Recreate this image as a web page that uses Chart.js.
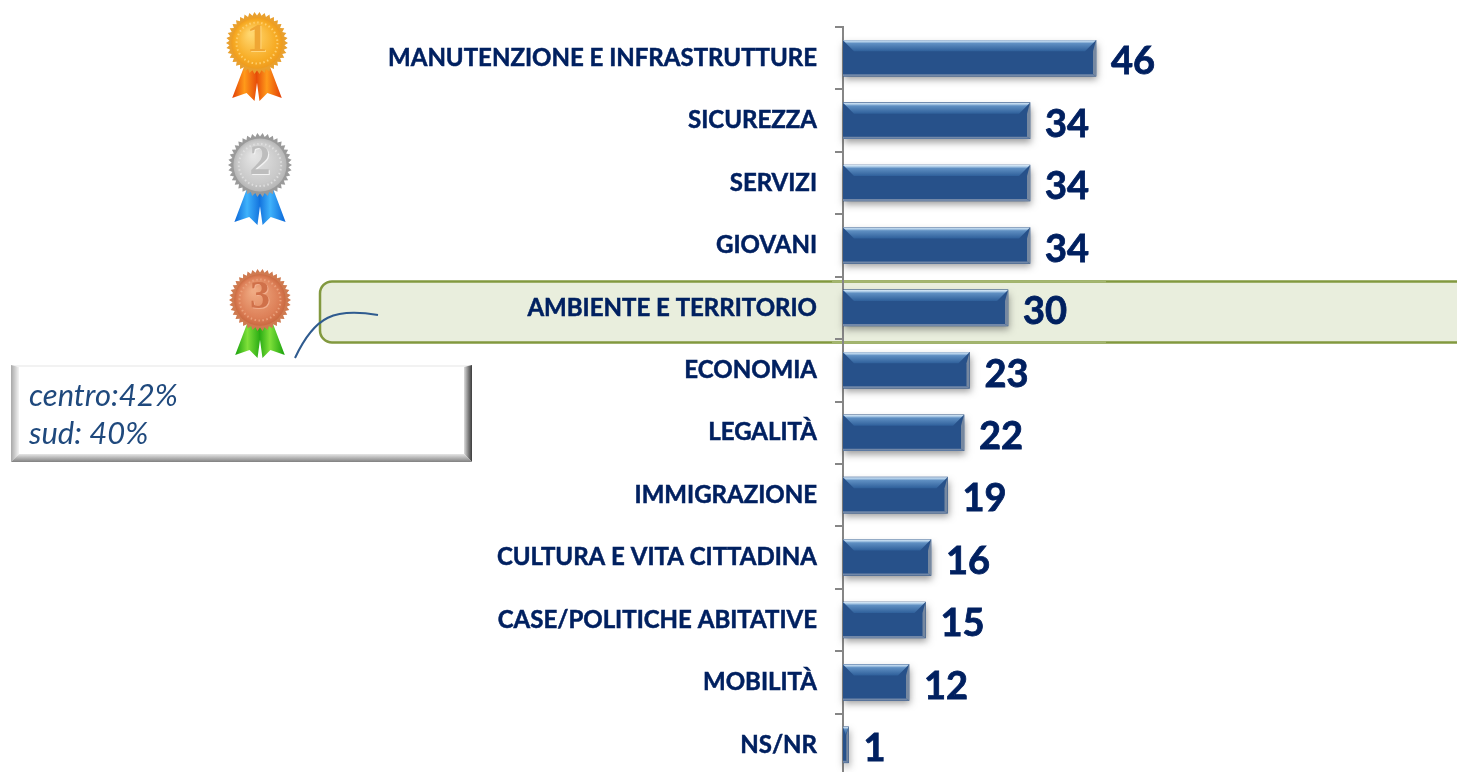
<!DOCTYPE html>
<html><head><meta charset="utf-8">
<script src="https://cdn.jsdelivr.net/npm/chart.js@4/dist/chart.umd.min.js"></script>
<style>html,body{margin:0;padding:0;background:#fff;overflow:hidden;width:1457px;height:772px}canvas{display:block}</style>
</head><body><canvas id="c" width="1457" height="800"></canvas>
<script>
const categories=["MANUTENZIONE E INFRASTRUTTURE","SICUREZZA","SERVIZI","GIOVANI","AMBIENTE E TERRITORIO","ECONOMIA","LEGALITÀ","IMMIGRAZIONE","CULTURA E VITA CITTADINA","CASE/POLITICHE ABITATIVE","MOBILITÀ","NS/NR"];
const values=[46,34,34,34,30,23,22,19,16,15,12,1];
const highlightIndex=4;
const calloutLines=["centro:42%","sud: 40%"];
const NAVY="#002060";

function poly(ctx,pts,fill){ctx.beginPath();pts.forEach((p,i)=>i?ctx.lineTo(p[0],p[1]):ctx.moveTo(p[0],p[1]));ctx.closePath();ctx.fillStyle=fill;ctx.fill();}

function medal(ctx,cx,cy,r,rb,c,digit){
  const bottom=rb;
  const tail=(pts,x0,x1)=>{const g=ctx.createLinearGradient(x0,0,x1,0);g.addColorStop(0,c.rib1);g.addColorStop(.45,c.rib2);g.addColorStop(1,c.rib1);poly(ctx,pts,g);};
  const t=cy+r*0.72,w=r*0.8;
  tail([[cx-w*0.5,t],[cx+w*0.08,t+3],[cx-w*0.1,bottom],[cx-w*0.42,bottom-8],[cx-w,bottom-3]],cx-w,cx+w*0.1);
  tail([[cx+w*0.5,t],[cx-w*0.08,t+3],[cx+w*0.1,bottom],[cx+w*0.42,bottom-8],[cx+w,bottom-3]],cx-w*0.1,cx+w);
  const n=38;ctx.beginPath();
  for(let i=0;i<n*2;i++){const a=i*Math.PI/n,R=i%2?r*0.89:r;const x=cx+R*Math.cos(a),y=cy+R*Math.sin(a);i?ctx.lineTo(x,y):ctx.moveTo(x,y);}
  ctx.closePath();ctx.fillStyle=c.edge;ctx.fill();
  const g=ctx.createRadialGradient(cx-r*.2,cy-r*.3,2,cx,cy,r*.85);
  g.addColorStop(0,c.light);g.addColorStop(.75,c.mid);g.addColorStop(1,c.dark);
  ctx.beginPath();ctx.arc(cx,cy,r*.83,0,Math.PI*2);ctx.fillStyle=g;ctx.fill();
  ctx.beginPath();ctx.arc(cx,cy,r*.66,0,Math.PI*2);ctx.strokeStyle=c.ring;ctx.lineWidth=2;ctx.setLineDash([1.5,2.5]);ctx.stroke();ctx.setLineDash([]);
  ctx.font="bold "+Math.round(r*1.3)+"px 'Liberation Serif'";ctx.textAlign="center";ctx.textBaseline="middle";
  ctx.fillStyle=c.shade;ctx.fillText(digit,cx+1,cy-1);
  ctx.fillStyle=c.digit;ctx.fillText(digit,cx,cy-2);
}

const medals={
 id:"medals",
 afterDraw(ch){const x=ch.ctx;x.save();
  medal(x,257,43,31,101,{rib1:"#e23d06",rib2:"#ff9a1a",edge:"#e9a02e",light:"#ffd66e",mid:"#f7ac25",dark:"#ee9a1d",ring:"#ffce6a",digit:"#efa634",shade:"#ffd77f"},"1");
  medal(x,260,165,32,225,{rib1:"#0a66d8",rib2:"#3fb2fb",edge:"#9a9a9a",light:"#e4e4e4",mid:"#c9c9c9",dark:"#b4b4b4",ring:"#dedede",digit:"#bdbdbd",shade:"#f2f2f2"},"2");
  medal(x,260,300,31,358,{rib1:"#18a10c",rib2:"#7fe03a",edge:"#cf7a50",light:"#f0ab83",mid:"#dd8058",dark:"#c9683f",ring:"#eba07a",digit:"#d0714a",shade:"#f2b090"},"3");
  x.restore();}
};

const band={
 id:"band",
 beforeDraw(ch){const x=ch.ctx,y=ch.scales.y.getPixelForTick(highlightIndex);
  const t=y-26.5,b=y+34.5,l=320,r=1470;
  x.save();x.beginPath();x.roundRect(l,t,r-l,b-t,[12,0,0,12]);x.fillStyle="#e9eedd";x.fill();x.strokeStyle="#82993f";x.lineWidth=2.5;x.stroke();
  x.strokeStyle="#a3b56f";x.lineWidth=2.5;x.beginPath();x.moveTo(832,t);x.lineTo(1106,t);x.moveTo(832,b);x.lineTo(1106,b);x.stroke();
  x.restore();}
};

const bevel={
 id:"bevel",
 beforeDatasetsDraw(ch){const x=ch.ctx;x.save();
  ch.getDatasetMeta(0).data.forEach(e=>{const L=e.base,R=e.x,T=e.y-e.height/2,B=e.y+e.height/2;
   x.shadowColor="rgba(60,60,60,.5)";x.shadowBlur=7;x.shadowOffsetX=1;x.shadowOffsetY=4;x.fillStyle="#555";x.fillRect(L,T,R-L,B-T);});
  x.restore();},
 afterDatasetsDraw(ch){const x=ch.ctx;x.save();
  ch.getDatasetMeta(0).data.forEach(e=>{const L=e.base,R=e.x,T=e.y-e.height/2,B=e.y+e.height/2;
   const w=R-L,b=Math.min(11,w*1.5),s=Math.min(3,w*.4),m=Math.min(11,w*.5);
   const g=x.createLinearGradient(0,T,0,T+b);g.addColorStop(0,"#dfeef9");g.addColorStop(.16,"#a6c6e4");g.addColorStop(.3,"#5f8fc2");g.addColorStop(1,"#2f609b");
   poly(x,[[L,T],[R,T],[R-m,T+b],[L+m,T+b]],g);
   poly(x,[[R,T],[R,B],[R-s,B-2],[R-s,T+b]],"#7688a0");
   poly(x,[[L,B],[R,B],[R-s,B-2],[L,B-2]],"#7288a8");
  });
  x.restore();}
};

const valueLabels={
 id:"valueLabels",
 afterDatasetsDraw(ch){const x=ch.ctx;x.save();x.font="bold 38px Lato";x.fillStyle=NAVY;x.strokeStyle=NAVY;x.lineWidth=.8;x.textAlign="left";x.textBaseline="middle";
  ch.getDatasetMeta(0).data.forEach((e,i)=>{x.fillText(String(values[i]),e.x+15,e.y+4);x.strokeText(String(values[i]),e.x+15,e.y+4);});x.restore();}
};

const callout={
 id:"callout",
 afterDraw(ch){const x=ch.ctx,l=11,t=365,r=472,b=462,s=8;x.save();
  x.fillStyle="#fff";x.fillRect(l,t,r-l,b-t);
  poly(x,[[l,t],[r,t],[r-s,t+2],[l+s,t+2]],"#f2f2f2");
  let g=x.createLinearGradient(l,0,l+s,0);g.addColorStop(0,"#a8a8a8");g.addColorStop(1,"#f4f4f4");
  poly(x,[[l,t],[l+s,t+2],[l+s,b-s],[l,b]],g);
  g=x.createLinearGradient(r-s,0,r,0);g.addColorStop(0,"#dcdcdc");g.addColorStop(.6,"#777");g.addColorStop(1,"#3c3c3c");
  poly(x,[[r,t],[r,b],[r-s,b-s],[r-s,t+2]],g);
  g=x.createLinearGradient(0,b-s,0,b);g.addColorStop(0,"#e6e6e6");g.addColorStop(1,"#808080");
  poly(x,[[l,b],[r,b],[r-s,b-s],[l+s,b-s]],g);
  x.font="italic 31px Lato";x.fillStyle="#1f497d";x.textAlign="left";x.textBaseline="alphabetic";
  calloutLines.forEach((s2,i)=>x.fillText(s2,29,406+i*38));
  x.beginPath();x.moveTo(295,358);x.bezierCurveTo(315,315,335,308,378,315);x.strokeStyle="#2f5b8f";x.lineWidth=2;x.stroke();
  x.restore();}
};

new Chart(document.getElementById("c"),{
 type:"bar",
 data:{labels:categories,datasets:[{data:values,backgroundColor:"#27518a",borderWidth:0,barThickness:36}]},
 plugins:[band,bevel,valueLabels,medals,callout],
 options:{
  indexAxis:"y",responsive:false,animation:false,
  layout:{padding:{top:27,bottom:24,right:64,left:0}},
  plugins:{legend:{display:false},tooltip:{enabled:false}},
  scales:{
   x:{display:false,min:0,max:100,grid:{display:false}},
   y:{
    afterFit(s){s.width=843;s.paddingTop=0;s.paddingBottom=0;},
    border:{color:"#868686",width:2},
    grid:{drawOnChartArea:false,color:"#868686",lineWidth:2,tickLength:8,tickWidth:2},
    ticks:{color:NAVY,font:{family:"Lato",weight:"bold",size:24},padding:18,autoSkip:false,textStrokeColor:NAVY,textStrokeWidth:0.5}
   }
  }
 }
});
</script></body></html>
